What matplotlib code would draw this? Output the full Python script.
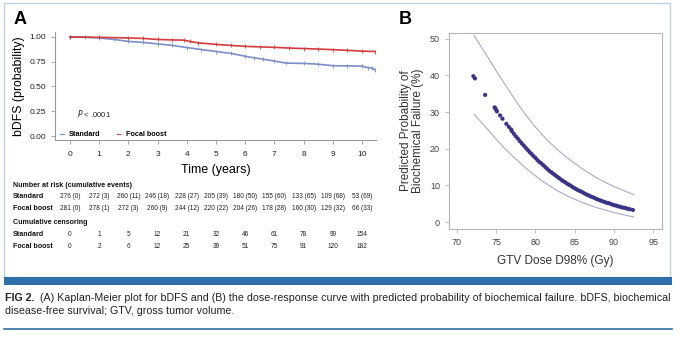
import matplotlib
matplotlib.use("Agg")
import matplotlib.pyplot as plt
from matplotlib import font_manager
from matplotlib.patches import Rectangle
from matplotlib.lines import Line2D
from matplotlib.transforms import blended_transform_factory

W, H = 680, 342

installed = {f.name for f in font_manager.fontManager.ttflist}
NARROW = 'Liberation Sans Narrow' if 'Liberation Sans Narrow' in installed else 'Liberation Sans'
plt.rcParams['font.family'] = 'Liberation Sans'

# ---- Panel A: Kaplan-Meier data ----
std_t = [0, 0.5, 1.0, 1.5, 2.0, 2.5, 3.0, 3.5, 4.0, 4.5, 5.0, 5.5, 6.0, 6.3, 6.6,
         7.0, 7.4, 8.0, 8.5, 9.0, 9.5, 10.0, 10.2, 10.35, 10.45]
std_s = [1.0, 0.997, 0.99, 0.975, 0.955, 0.945, 0.93, 0.915, 0.893, 0.873, 0.853, 0.835,
         0.805, 0.79, 0.776, 0.757, 0.736, 0.733, 0.725, 0.71, 0.708, 0.705, 0.69, 0.684, 0.668]
fb_t = [0, 1.0, 2.0, 2.5, 3.0, 3.5, 3.9, 4.1, 4.4, 5.0, 5.5, 6.0, 6.5, 7.0, 7.5,
        8.0, 8.5, 9.0, 9.5, 10.0, 10.45]
fb_s = [1.0, 0.996, 0.99, 0.985, 0.975, 0.97, 0.968, 0.955, 0.94, 0.925, 0.915, 0.905,
        0.9, 0.895, 0.888, 0.883, 0.878, 0.872, 0.865, 0.857, 0.853]

years = list(range(11))
risk_std = ["276 (0)", "272 (3)", "260 (11)", "246 (18)", "228 (27)", "205 (39)",
            "180 (50)", "155 (60)", "133 (65)", "109 (68)", "53 (69)"]
risk_fb = ["281 (0)", "278 (1)", "272 (3)", "260 (9)", "244 (12)", "220 (22)",
           "204 (26)", "178 (28)", "160 (30)", "129 (32)", "66 (33)"]
cens_std = [0, 1, 5, 12, 21, 32, 46, 61, 78, 99, 154]
cens_fb = [0, 2, 6, 12, 25, 39, 51, 75, 91, 120, 182]

# ---- Panel B: dose-response data ----
dose = [72.1, 72.3, 73.6, 74.8, 74.9, 75.0, 75.1, 75.5, 75.8, 76.3, 76.6, 76.9,
        77.0, 77.25, 77.5, 77.75, 78.0, 78.25, 78.5, 78.75, 79.0, 79.25, 79.5, 79.75,
        80.0, 80.25, 80.5, 80.75, 81.0, 81.25, 81.5, 81.75, 82.0, 82.25, 82.5, 82.75,
        83.0, 83.25, 83.5, 83.75, 84.0, 84.25, 84.5, 84.75, 85.0, 85.25, 85.5, 85.75,
        86.0, 86.25, 86.5, 86.75, 87.0, 87.25, 87.5, 87.75, 88.0, 88.25, 88.5, 88.75,
        89.0, 89.25, 89.5, 89.75, 90.0, 90.25, 90.5, 90.75, 91.0, 91.25, 91.5, 91.75,
        92.0, 92.4]
prob = [39.8, 39.2, 34.7, 31.3, 31.0, 30.6, 30.2, 29.1, 28.2, 26.8, 26.0, 25.3,
        24.8, 24.1, 23.4, 22.8, 22.1, 21.5, 20.9, 20.3, 19.7, 19.1, 18.6, 18.0,
        17.5, 16.9, 16.4, 16.0, 15.5, 15.0, 14.5, 14.0, 13.6, 13.2, 12.8, 12.4,
        12.0, 11.6, 11.2, 10.9, 10.5, 10.2, 9.9, 9.5, 9.2, 8.9, 8.6, 8.4,
        8.1, 7.8, 7.5, 7.3, 7.0, 6.8, 6.6, 6.3, 6.1, 5.9, 5.7, 5.5,
        5.3, 5.2, 5.0, 4.8, 4.6, 4.5, 4.3, 4.2, 4.0, 3.9, 3.8, 3.6,
        3.5, 3.3]
ci_dose = [72.2, 73.0, 74.0, 75.0, 76.0, 77.0, 78.0, 79.0, 80.0, 81.0, 82.0, 83.0,
           84.0, 85.0, 86.0, 87.0, 88.0, 89.0, 90.0, 91.0, 92.0, 92.5]
ci_upper = [51.0, 48.1, 44.8, 41.3, 38.0, 34.7, 31.5, 28.6, 25.9, 23.5, 21.3, 19.4,
            17.6, 16.0, 14.5, 13.1, 11.8, 10.7, 9.7, 8.8, 7.9, 7.5]
ci_lower = [29.4, 27.5, 25.1, 22.6, 20.3, 18.2, 16.2, 14.3, 12.6, 11.0, 9.6, 8.3,
            7.2, 6.2, 5.3, 4.5, 3.8, 3.2, 2.6, 2.1, 1.6, 1.4]


def fx(px):
    return px / W


def fy(py):
    return 1 - py / H


fig = plt.figure(figsize=(6.8, 3.42), dpi=100)

# outer frame and blue bar
fig.patches.append(Rectangle((fx(4), fy(277)), fx(666), 274 / H, transform=fig.transFigure,
                             fill=False, ec='#bdd0e2', lw=1.0))
fig.patches.append(Rectangle((fx(4), fy(285)), fx(668), 8 / H, transform=fig.transFigure,
                             fc='#2f6ea8', ec='none'))
fig.lines.append(Line2D([fx(4), fx(672)], [fy(329), fy(329)], transform=fig.transFigure,
                        color='#2f6ea8', lw=1.2))

spine_grey = '#999999'

# ---------------- Panel A ----------------
axA = fig.add_axes([fx(55), fy(140), fx(321), 108 / H])
axA.plot(std_t, std_s, color='#7b8ec9', lw=1.2, label='Standard',
         marker='|', ms=2.2, mew=0.6)
axA.plot(fb_t, fb_s, color='#d23c3c', lw=1.2, label='Focal boost',
         marker='|', ms=2.2, mew=0.6)
axA.set_xlim(-0.51, 10.48)
axA.set_ylim(-0.04, 1.05)
axA.set_xticks(years)
axA.set_yticks([0, 0.25, 0.5, 0.75, 1.0])
axA.set_yticklabels(['0.00', '0.25', '0.50', '0.75', '1.00'])
for s in ['top', 'right']:
    axA.spines[s].set_visible(False)
for s in ['left', 'bottom']:
    axA.spines[s].set_color(spine_grey)
    axA.spines[s].set_linewidth(0.8)
axA.tick_params(axis='both', colors=spine_grey, labelcolor='#222222', labelsize=6,
                length=3, width=0.6)
axA.tick_params(axis='x', pad=5)
axA.set_xlabel('Time (years)', fontsize=9, family=NARROW, labelpad=4)
axA.set_ylabel('bDFS (probability)', fontsize=8.8, family=NARROW, labelpad=3)
axA.text(0.25, 0.19, r'$\it{P}$ < .0001', fontsize=5.5, color='#222222')
leg = axA.legend(loc='lower left', bbox_to_anchor=(-0.005, -0.045), ncol=2, frameon=False,
                 handlelength=0.5, handletextpad=0.8, columnspacing=2.2,
                 prop={'family': NARROW, 'weight': 'bold', 'size': 5.2})
for h in leg.legend_handles:
    h.set_linewidth(0.8)
    h.set_marker('')

# number at risk table
tr = blended_transform_factory(axA.transData, fig.transFigure)
lab = dict(family=NARROW, weight='bold', fontsize=5.1, color='#111111', va='center')
num = dict(family=NARROW, fontsize=4.7, color='#222222', va='center', ha='center')
fig.text(fx(13), fy(185), 'Number at risk (cumulative events)', **lab)
fig.text(fx(13), fy(196), 'Standard', **lab)
fig.text(fx(13), fy(208), 'Focal boost', **lab)
fig.text(fx(13), fy(222), 'Cumulative censoring', **lab)
fig.text(fx(13), fy(234), 'Standard', **lab)
fig.text(fx(13), fy(246), 'Focal boost', **lab)
for yr, a, b, c, d in zip(years, risk_std, risk_fb, cens_std, cens_fb):
    axA.text(yr, fy(196), a, transform=tr, **num)
    axA.text(yr, fy(208), b, transform=tr, **num)
    axA.text(yr, fy(234), str(c), transform=tr, **num)
    axA.text(yr, fy(246), str(d), transform=tr, **num)

fig.text(fx(14), fy(20), 'A', fontsize=13, weight='bold', va='center')

# ---------------- Panel B ----------------
axB = fig.add_axes([fx(449), fy(229), fx(213), 196 / H])
axB.plot(ci_dose, ci_upper, color='#a9a9c9', lw=0.8)
axB.plot(ci_dose, ci_lower, color='#a9a9c9', lw=0.8)
axB.scatter(dose, prob, s=9, color='#3a3486', edgecolors='none', zorder=3)
axB.set_xlim(69, 96.1)
axB.set_ylim(-1.9, 51.6)
axB.set_xticks([70, 75, 80, 85, 90, 95])
axB.set_yticks([0, 10, 20, 30, 40, 50])
for s in axB.spines.values():
    s.set_color('#b5b5b5')
    s.set_linewidth(0.8)
axB.tick_params(axis='both', colors='#b5b5b5', labelcolor='#444444', labelsize=6.5,
                length=3, width=0.6)
axB.set_xlabel('GTV Dose D98% (Gy)', fontsize=8.5, family=NARROW, color='#333333', labelpad=6)
axB.set_ylabel('Predicted Probability of\nBiochemical Failure (%)', fontsize=8.5,
               family=NARROW, color='#333333', labelpad=4, linespacing=1.05)

fig.text(fx(399), fy(20), 'B', fontsize=13, weight='bold', va='center')

# ---------------- caption ----------------
line1 = ('(A) Kaplan-Meier plot for bDFS and (B) the dose-response curve with predicted '
         'probability of biochemical failure. bDFS, biochemical')
size = 8.0
for _ in range(3):
    cap = dict(family=NARROW, fontsize=size, color='#222222', va='center')
    t1 = fig.text(fx(5), fy(298), 'FIG 2.', weight='bold', **cap)
    fig.canvas.draw()
    x_after = t1.get_window_extent().x1 + 5
    t2 = fig.text(x_after / W, fy(298), line1, **cap)
    fig.canvas.draw()
    right = t2.get_window_extent().x1
    if abs(right - 671) < 2:
        break
    t1.remove()
    t2.remove()
    size *= (671 - 5) / (right - 5)
fig.text(fx(5), fy(311), 'disease-free survival; GTV, gross tumor volume.', **cap)

fig.savefig('out.png', dpi=100)
